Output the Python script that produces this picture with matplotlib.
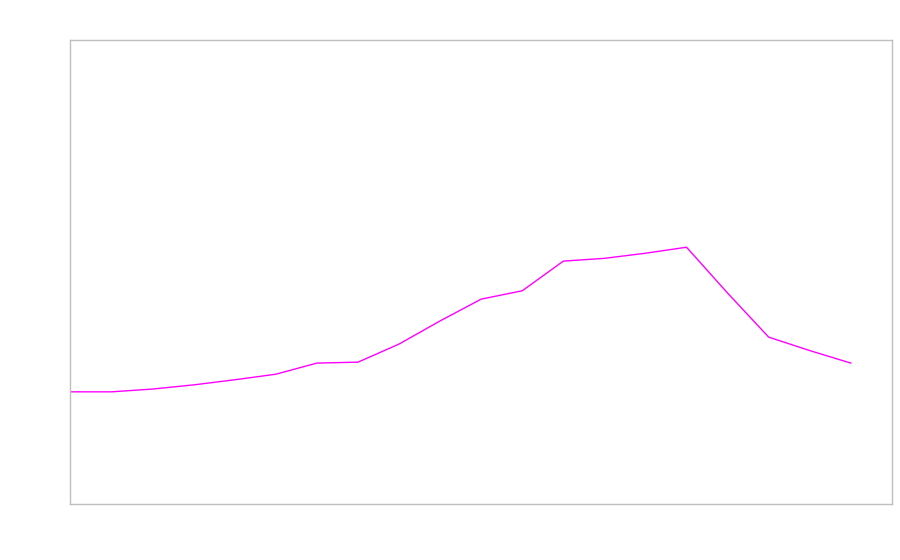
import numpy as np
import matplotlib
matplotlib.use("Agg")
import matplotlib.pyplot as plt

# Verdier (ingen akseetiketter i originalen)
steps = list(range(20))
values = [24.2, 24.2, 24.8, 25.7, 26.8, 28.0, 30.4, 30.6, 34.5, 39.5,
          44.2, 46.0, 52.4, 53.0, 54.1, 55.4, 45.5, 36.0, 33.1, 30.4]

fig = plt.figure(figsize=(9, 5.6), dpi=100)
ax = fig.add_axes([0.0783, 0.1, 0.9127, 0.8277])

ax.plot(steps, values, color="#ff00ff", linewidth=1)

ax.set_xlim(0, 20)
ax.set_ylim(0, 100)
ax.set_xticks([])
ax.set_yticks([])
for s in ax.spines.values():
    s.set_color("#bfbfbf")
    s.set_linewidth(1)

fig.savefig("out.png", dpi=100)
plt.close(fig)
